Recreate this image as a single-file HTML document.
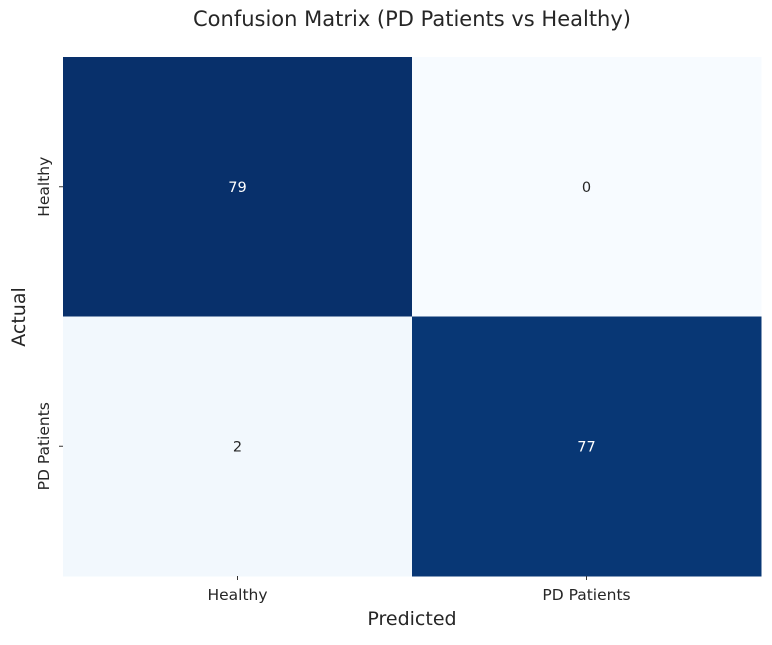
<!DOCTYPE html>
<html><head><meta charset="utf-8"><style>
body{margin:0;background:#fff;}
svg text{font-family:"DejaVu Sans","Liberation Sans",sans-serif;}
</style></head><body>
<svg id="chart" width="772" height="640">
<text x="412" y="26" text-anchor="middle" font-size="21" fill="#262626">Confusion Matrix (PD Patients vs Healthy)</text>
<g id="cells"></g>
<g id="axes"></g>
<text x="412" y="625" text-anchor="middle" font-size="19" fill="#262626">Predicted</text>
<text transform="translate(25,317) rotate(-90)" text-anchor="middle" font-size="19" fill="#262626">Actual</text>
</svg>
<script>
const xLabels=["Healthy","PD Patients"];
const yLabels=["Healthy","PD Patients"];
const values=[[79,0],[2,77]];
const L=63,T=57,W=698,H=519;
const cw=W/xLabels.length,ch=H/yLabels.length;
const vmax=Math.max(...values.flat()),vmin=Math.min(...values.flat());
const stops=[[247,251,255],[222,235,247],[198,219,239],[158,202,225],[107,174,214],[66,146,198],[33,113,181],[8,81,156],[8,48,107]];
function color(v){const t=(v-vmin)/(vmax-vmin||1);
 const p=t*(stops.length-1),i=Math.min(Math.floor(p),stops.length-2),f=p-i;
 return 'rgb('+stops[i].map((c,k)=>Math.round(c+(stops[i+1][k]-c)*f)).join(',')+')';}
const ns='http://www.w3.org/2000/svg';
const cells=document.getElementById('cells'),axes=document.getElementById('axes');
values.forEach((row,r)=>row.forEach((v,c)=>{
 const rect=document.createElementNS(ns,'rect');
 rect.setAttribute('x',L+c*cw);rect.setAttribute('y',T+r*ch);
 rect.setAttribute('width',cw+0.5);rect.setAttribute('height',ch+0.5);
 rect.setAttribute('fill',color(v));
 
 
 cells.appendChild(rect);
 const t=document.createElementNS(ns,'text');
 t.setAttribute('x',L+(c+0.5)*cw);t.setAttribute('y',T+(r+0.5)*ch+5);
 t.setAttribute('text-anchor','middle');t.setAttribute('font-size','14.5');
 t.setAttribute('fill',(v-vmin)/(vmax-vmin)>0.5?'#fff':'#262626');
 t.textContent=v;
 
 
 cells.appendChild(t);
}));
xLabels.forEach((lab,i)=>{
 const x=L+(i+0.5)*cw;
 const tk=document.createElementNS(ns,'line');
 tk.setAttribute('x1',x);tk.setAttribute('x2',x);tk.setAttribute('y1',T+H);tk.setAttribute('y2',T+H+4);tk.setAttribute('stroke','#333');
 
 
 axes.appendChild(tk);
 const t=document.createElementNS(ns,'text');
 t.setAttribute('x',x);t.setAttribute('y',T+H+24);t.setAttribute('text-anchor','middle');t.setAttribute('font-size','15.5');t.setAttribute('fill','#262626');
 t.textContent=lab;
 
 
 axes.appendChild(t);
});
yLabels.forEach((lab,i)=>{
 const y=T+(i+0.5)*ch;
 const tk=document.createElementNS(ns,'line');
 tk.setAttribute('x1',L-4);tk.setAttribute('x2',L);tk.setAttribute('y1',y);tk.setAttribute('y2',y);tk.setAttribute('stroke','#333');
 
 
 axes.appendChild(tk);
 const t=document.createElementNS(ns,'text');
 t.setAttribute('transform','translate('+(L-14)+','+y+') rotate(-90)');
 t.setAttribute('text-anchor','middle');t.setAttribute('font-size','15.5');t.setAttribute('fill','#262626');
 t.textContent=lab;
 
 
 axes.appendChild(t);
});
</script>
</body></html>
